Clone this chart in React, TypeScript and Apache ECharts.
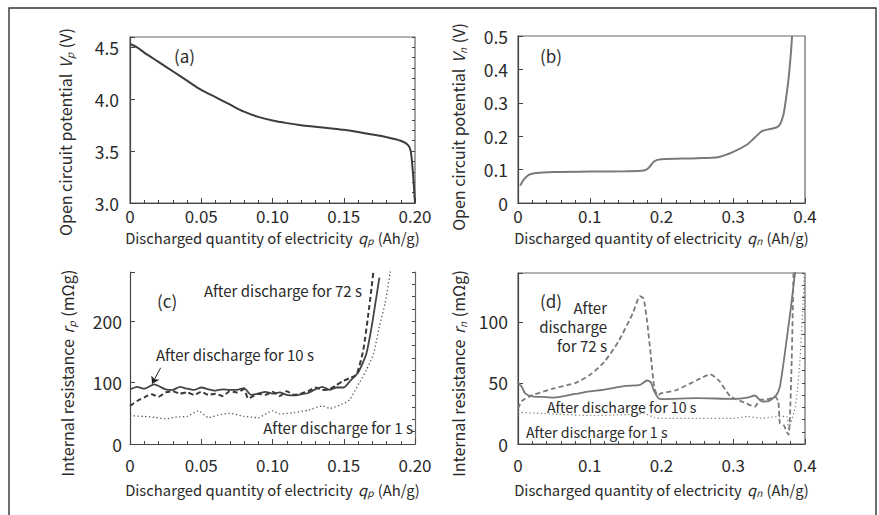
import React, { useEffect, useRef } from "react";
import * as echarts from "echarts";

const FONT = '"Noto Sans CJK JP", "Noto Sans", sans-serif';

// (a) positive electrode open-circuit potential
const ocpPositive: [number, number][] = [
  [0.0005, 4.53], [0.005, 4.5], [0.01, 4.45], [0.02, 4.36], [0.03, 4.27], [0.04, 4.18],
  [0.05, 4.09], [0.06, 4.02], [0.07, 3.95], [0.08, 3.88], [0.09, 3.83], [0.1, 3.795],
  [0.11, 3.77], [0.12, 3.75], [0.13, 3.735], [0.14, 3.72], [0.15, 3.705], [0.16, 3.685],
  [0.17, 3.66], [0.18, 3.635], [0.19, 3.6], [0.195, 3.56], [0.197, 3.5], [0.1985, 3.3], [0.2, 3.0],
];

// (b) negative electrode open-circuit potential
const ocpNegative: [number, number][] = [
  [0.003, 0.052], [0.008, 0.07], [0.015, 0.084], [0.025, 0.09], [0.05, 0.093], [0.1, 0.094],
  [0.15, 0.095], [0.175, 0.097], [0.182, 0.105], [0.19, 0.125], [0.2, 0.131], [0.25, 0.134],
  [0.28, 0.138], [0.3, 0.153], [0.32, 0.176], [0.33, 0.196], [0.34, 0.215], [0.35, 0.221],
  [0.36, 0.226], [0.365, 0.235], [0.37, 0.265], [0.374, 0.32], [0.377, 0.37], [0.38, 0.44], [0.382, 0.5],
];

// (c) positive electrode internal resistance
const rp10s: [number, number][] = [
  [0, 89], [0.005, 93], [0.01, 90], [0.017, 97], [0.025, 89], [0.03, 88], [0.035, 93], [0.04, 90],
  [0.045, 88], [0.05, 92], [0.055, 89], [0.06, 87], [0.065, 89], [0.07, 88], [0.075, 88], [0.08, 91],
  [0.085, 80], [0.09, 82], [0.095, 85], [0.1, 82], [0.105, 84], [0.11, 80], [0.115, 79], [0.12, 81],
  [0.125, 83], [0.13, 89], [0.135, 93], [0.14, 88], [0.145, 92], [0.15, 92], [0.155, 104],
  [0.16, 116], [0.163, 130], [0.166, 148], [0.1696, 191], [0.1726, 235], [0.175, 271],
];
const rp72s: [number, number][] = [
  [0, 62], [0.005, 70], [0.01, 76], [0.015, 81], [0.02, 77], [0.025, 84], [0.03, 86], [0.035, 82],
  [0.04, 84], [0.045, 80], [0.05, 85], [0.055, 80], [0.06, 82], [0.065, 78], [0.07, 86], [0.075, 84],
  [0.08, 89], [0.083, 74], [0.09, 82], [0.095, 80], [0.1, 85], [0.105, 78], [0.11, 86], [0.115, 80],
  [0.12, 82], [0.125, 86], [0.13, 92], [0.135, 88], [0.14, 89], [0.145, 96], [0.15, 103],
  [0.155, 108], [0.159, 113], [0.1637, 153], [0.167, 207], [0.1696, 256], [0.171, 285],
];
const rp1s: [number, number][] = [
  [0, 46], [0.01, 45], [0.018, 43], [0.025, 41], [0.033, 44], [0.04, 45], [0.048, 54],
  [0.055, 43], [0.062, 47], [0.07, 50], [0.08, 45], [0.09, 43], [0.1, 54], [0.105, 49],
  [0.115, 51], [0.125, 55], [0.135, 62], [0.14, 58], [0.147, 63], [0.154, 72], [0.161, 100],
  [0.166, 121], [0.171, 148], [0.175, 191], [0.179, 229], [0.1825, 278], [0.184, 300],
];

// (d) negative electrode internal resistance
const rn10s: [number, number][] = [
  [0, 50], [0.005, 47], [0.01, 41.5], [0.02, 39], [0.035, 38.5], [0.05, 38], [0.08, 41],
  [0.1, 43], [0.12, 44.5], [0.15, 47.5], [0.17, 48.4], [0.18, 52], [0.185, 50.5], [0.19, 43],
  [0.195, 38], [0.2, 36.7], [0.25, 37.5], [0.3, 37], [0.32, 38], [0.33, 39.7], [0.34, 34.8],
  [0.35, 35.3], [0.36, 40], [0.365, 47], [0.37, 66], [0.375, 88], [0.38, 110], [0.385, 135], [0.387, 145],
];
const rn72s: [number, number][] = [
  [0, 29], [0.005, 35], [0.01, 37], [0.02, 40], [0.05, 45.5], [0.08, 50], [0.1, 56.5],
  [0.12, 67], [0.14, 84], [0.16, 107], [0.17, 121], [0.175, 119], [0.18, 100], [0.185, 73],
  [0.19, 46], [0.195, 40], [0.2, 41.6], [0.22, 44], [0.25, 52.4], [0.268, 57], [0.28, 52],
  [0.296, 39], [0.315, 34], [0.33, 30.6], [0.337, 36], [0.35, 37], [0.358, 38.8], [0.3628, 34.7],
  [0.365, 17], [0.37, 15.7], [0.377, 7.6], [0.379, 22], [0.3815, 69], [0.384, 140], [0.385, 160],
];
const rn1s: [number, number][] = [
  [0, 26], [0.05, 24.5], [0.1, 23.4], [0.15, 24], [0.175, 25], [0.19, 21.7], [0.2, 21],
  [0.25, 21], [0.3, 21], [0.32, 22.5], [0.34, 21], [0.36, 22.5], [0.3744, 22.5], [0.377, 13],
  [0.38, 17], [0.385, 27], [0.388, 36], [0.393, 69], [0.3968, 109], [0.3986, 134], [0.4, 150],
];

const qpTicks = ["0", "0.05", "0.10", "0.15", "0.20"];
const qnTicks = ["0", "0.1", "0.2", "0.3", "0.4"];

const AXIS_COLOR = "#454545";
const TEXT_COLOR = "#2a2a2a";

function richFor(size: number, lh: number) {
  return {
    i: { fontFamily: FONT, fontSize: size, fontStyle: "italic", color: TEXT_COLOR, lineHeight: lh, padding: [0, 0, 0, 2] },
    s: { fontFamily: FONT, fontSize: Math.round(size * 0.65), fontStyle: "italic", color: TEXT_COLOR, lineHeight: 9, verticalAlign: "bottom", padding: [0, 1, 0, 0] },
  };
}

function xAxisFor(gridIndex: number, max: number, interval: number, fmt: (v: number) => string, sub: string, labelMargin: number, nameGap: number) {
  return {
    type: "value",
    gridIndex,
    min: 0,
    max,
    interval,
    name: `Discharged quantity of electricity {i|q}{s|${sub}} (Ah/g)`,
    nameLocation: "middle",
    nameGap,
    nameTextStyle: { fontFamily: FONT, fontSize: 14.8, color: TEXT_COLOR, lineHeight: 16, rich: richFor(14.8, 16) },
    axisLine: { lineStyle: { color: AXIS_COLOR, width: 1.2 } },
    axisTick: { inside: true, length: 5, lineStyle: { color: AXIS_COLOR } },
    minorTick: { show: true, splitNumber: 5, length: 3, lineStyle: { color: AXIS_COLOR } },
    splitLine: { show: false },
    axisLabel: { color: TEXT_COLOR, fontSize: 17, lineHeight: 17, fontFamily: FONT, margin: labelMargin, formatter: fmt },
  };
}

function yAxisFor(
  gridIndex: number, min: number, max: number, interval: number, fmt: (v: number) => string,
  name: string, gap: number, shift: number, labelMargin: number,
) {
  return {
    type: "value",
    gridIndex,
    min,
    max,
    interval,
    name,
    nameLocation: "middle",
    nameRotate: 90,
    nameGap: gap,
    nameTextStyle: {
      fontFamily: FONT, fontSize: 16, color: TEXT_COLOR, lineHeight: 18, rich: richFor(16, 18),
      padding: [0, shift, 0, 0],
    },
    axisLine: { lineStyle: { color: AXIS_COLOR, width: 1.2 } },
    axisTick: { inside: true, length: 5, lineStyle: { color: AXIS_COLOR } },
    splitLine: { show: false },
    axisLabel: { color: TEXT_COLOR, fontSize: 17.5, fontFamily: FONT, margin: labelMargin, formatter: fmt, showMaxLabel: true },
  };
}

function minorYAxis(gridIndex: number, min: number, max: number, interval: number) {
  return {
    type: "value",
    gridIndex,
    min,
    max,
    interval,
    axisLine: { show: false },
    axisTick: { inside: true, length: 3, lineStyle: { color: AXIS_COLOR } },
    axisLabel: { show: false },
    splitLine: { show: false },
  };
}

export default function App() {
  const ref = useRef<HTMLDivElement>(null);

  useEffect(() => {
    if (!ref.current) return;
    const chart = echarts.init(ref.current, null, { renderer: "svg" });

    const fmtQp = (v: number) => qpTicks[Math.round(v / 0.05)] ?? "";
    const fmtQn = (v: number) => qnTicks[Math.round(v / 0.1)] ?? "";
    const hideOff = (step: number) => (v: number) =>
      Math.abs(v / step - Math.round(v / step)) < 1e-6 ? String(Math.round(v)) : "";

    const textEl = (x: number, y: number, text: string, size = 15, align = "left") => ({
      type: "text",
      x,
      y,
      style: { text, fill: TEXT_COLOR, font: `${size}px ${FONT}`, textAlign: align, textVerticalAlign: "middle" },
    });

    const option = {
      animation: false,
      backgroundColor: "#ffffff",
      grid: [
        { left: 130, top: 37, width: 285, height: 166, show: true, borderColor: "#666", borderWidth: 1.2 },
        { left: 518, top: 36, width: 287, height: 167, show: true, borderColor: "#666", borderWidth: 1.2 },
        { left: 130, top: 272, width: 285, height: 172 },
        { left: 518, top: 273, width: 287, height: 171, show: true, borderColor: "#666", borderWidth: 1.2 },
      ],
      xAxis: [
        xAxisFor(0, 0.2, 0.05, fmtQp, "p", 4, 26),
        xAxisFor(1, 0.4, 0.1, fmtQn, "n", 4, 26),
        xAxisFor(2, 0.2, 0.05, fmtQp, "p", 12, 37),
        xAxisFor(3, 0.4, 0.1, fmtQn, "n", 12, 37),
      ],
      yAxis: [
        yAxisFor(0, 3.0, 4.6, 0.5, (v: number) => (Math.abs(v * 2 - Math.round(v * 2)) < 1e-6 ? v.toFixed(1) : ""),
          "Open circuit potential {i|V}{s|p} (V)", 56, 24, 11),
        yAxisFor(1, 0, 0.5, 0.1, (v: number) => (v === 0 ? "0" : v.toFixed(1)),
          "Open circuit potential {i|V}{s|n} (V)", 51, 15, 10),
        yAxisFor(2, 0, 280, 100, hideOff(100), "Internal resistance {i|r}{s|p} (mΩg)", 54, 30, 8),
        yAxisFor(3, 0, 140, 50, hideOff(50), "Internal resistance {i|r}{s|n} (mΩg)", 51, 30, 10),
        minorYAxis(0, 3.0, 4.6, 0.1),
        minorYAxis(2, 0, 280, 20),
        minorYAxis(3, 0, 140, 10),
        {
          type: "value", gridIndex: 2, position: "right", min: 0, max: 280,
          axisLine: { show: true, lineStyle: { color: "#666", width: 1.2 } },
          axisTick: { show: false }, axisLabel: { show: false }, splitLine: { show: false },
        },
      ],
      series: [
        {
          type: "line", xAxisIndex: 0, yAxisIndex: 0, data: ocpPositive, smooth: 0.3, symbol: "none",
          lineStyle: { color: "#3c3c3c", width: 2 },
        },
        {
          type: "line", xAxisIndex: 1, yAxisIndex: 1, data: ocpNegative, smooth: 0.3, symbol: "none",
          lineStyle: { color: "#7a7a7a", width: 2 },
        },
        {
          type: "line", xAxisIndex: 2, yAxisIndex: 2, data: rp10s, smooth: 0.2, symbol: "none",
          lineStyle: { color: "#444", width: 1.8 },
          markLine: {
            silent: true, symbol: ["none", "arrow"], symbolSize: 7,
            lineStyle: { color: "#222", width: 1, type: "solid" }, label: { show: false },
            data: [[{ coord: [0.0215, 124] }, { coord: [0.0155, 98] }]],
          },
        },
        {
          type: "line", xAxisIndex: 2, yAxisIndex: 2, data: rp72s, smooth: 0.2, symbol: "none",
          lineStyle: { color: "#3a3a3a", width: 2, type: [5, 3] },
        },
        {
          type: "line", xAxisIndex: 2, yAxisIndex: 2, data: rp1s, smooth: 0.2, symbol: "none",
          lineStyle: { color: "#555", width: 1.3, type: [1.3, 2.5] },
        },
        {
          type: "line", xAxisIndex: 3, yAxisIndex: 3, data: rn10s, smooth: 0.2, symbol: "none",
          lineStyle: { color: "#777", width: 1.8 },
        },
        {
          type: "line", xAxisIndex: 3, yAxisIndex: 3, data: rn72s, smooth: 0.2, symbol: "none",
          lineStyle: { color: "#7a7a7a", width: 1.8, type: [5, 3] },
        },
        {
          type: "line", xAxisIndex: 3, yAxisIndex: 3, data: rn1s, smooth: 0.2, symbol: "none",
          lineStyle: { color: "#888", width: 1.3, type: [1.3, 2.5] },
        },
      ],
      graphic: [
        {
          type: "rect", shape: { x: 9, y: 8, width: 867, height: 530 },
          style: { fill: "none", stroke: "#333", lineWidth: 1.4 }, silent: true,
        },
        textEl(174, 55, "(a)", 17),
        textEl(540, 55, "(b)", 17),
        textEl(157, 300, "(c)", 17),
        textEl(540, 300, "(d)", 17),
        textEl(204, 290, "After discharge for 72 s"),
        textEl(156, 354, "After discharge for 10 s"),
        textEl(413, 427, "After discharge for 1 s", 15, "right"),
        textEl(607, 307, "After", 15, "right"),
        textEl(607, 326, "discharge", 15, "right"),
        textEl(607, 345, "for 72 s", 15, "right"),
        textEl(547, 407, "After discharge for 10 s", 14.2),
        textEl(526, 432, "After discharge for 1 s", 14.2),
      ],
    };

    chart.setOption(option as any);
    return () => chart.dispose();
  }, []);

  return (
    <div
      ref={ref}
      style={{ position: "fixed", left: 0, top: 0, width: 879, height: 515, background: "#fff" }}
    />
  );
}
